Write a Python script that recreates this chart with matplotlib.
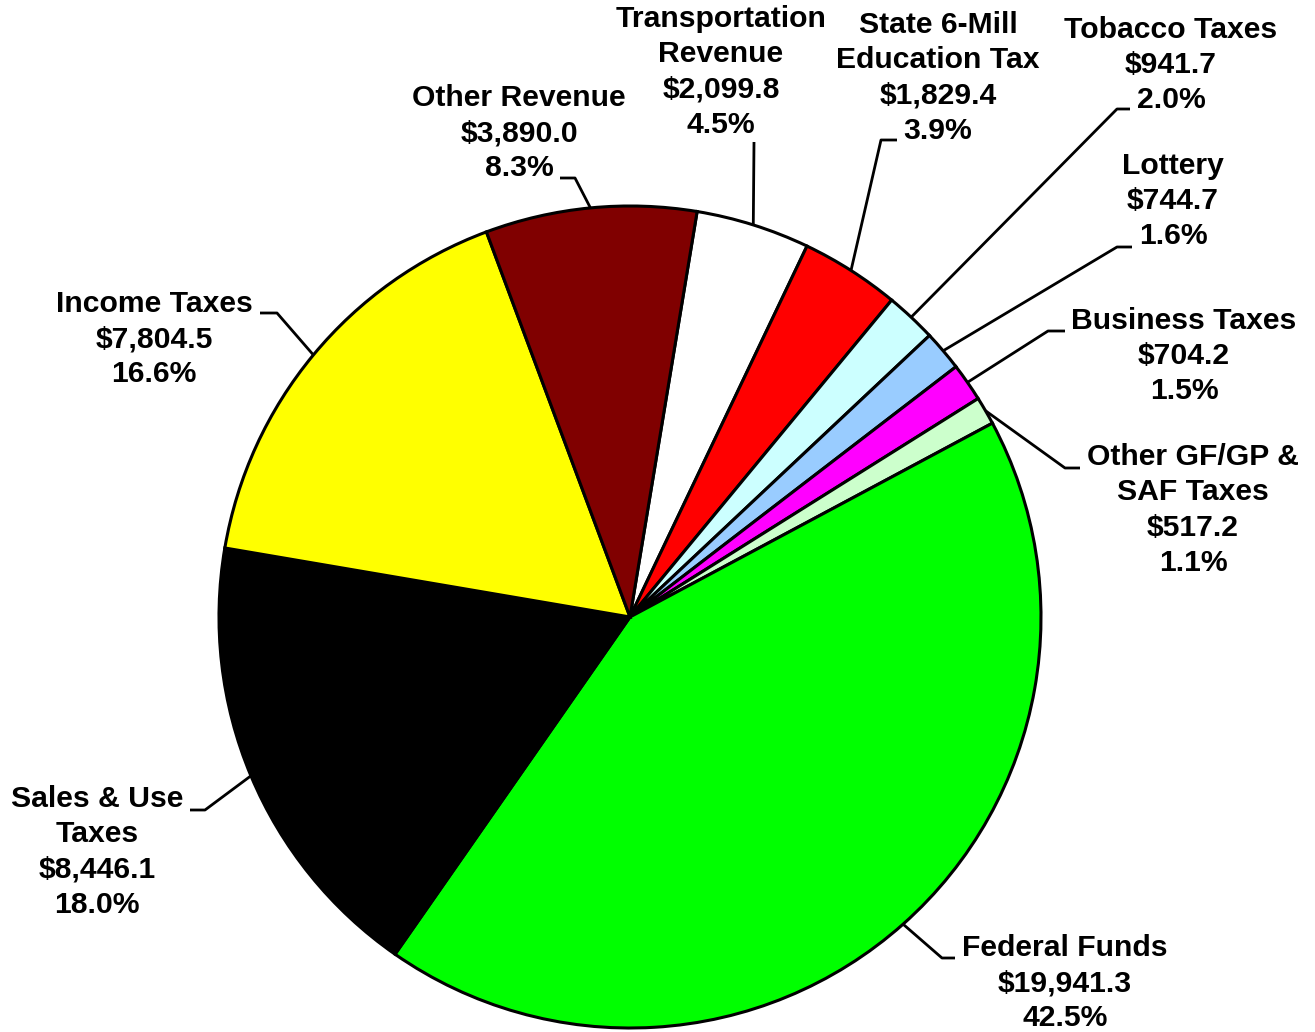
import matplotlib.pyplot as plt
import numpy as np

# ─── data (millions of dollars) ──────────────────────────────────────────────
categories = ["Transportation\nRevenue", "State 6-Mill\nEducation Tax", "Tobacco Taxes",
              "Lottery", "Business Taxes", "Other GF/GP &\nSAF Taxes", "Federal Funds",
              "Sales & Use\nTaxes", "Income Taxes", "Other Revenue"]
values = [2099.8, 1829.4, 941.7, 744.7, 704.2, 517.2, 19941.3, 8446.1, 7804.5, 3890.0]
colors = ["#FFFFFF", "#FF0000", "#CCFFFF", "#99CCFF", "#FF00FF", "#CCFFCC",
          "#00FF00", "#000000", "#FFFF00", "#800000"]

# ─── layout (pixel coords, y measured from top) ──────────────────────────────
W, H = 1315, 1032
CENTER = (630, 617)
RADIUS = 411
# text centre, elbow point, end point of leader line
label_layout = [
    ((721, 72),   None,       (754, 142)),
    ((938, 78),   (881, 140), (897, 140)),
    ((1171, 65),  (1117, 109), (1130, 109)),
    ((1173, 201), (1117, 247), (1132, 247)),
    ((1184, 356), (1048, 331), (1065, 331)),
    ((1193, 510), (1065, 468), (1080, 468)),
    ((1065, 983), (942, 958),  (955, 958)),
    ((97, 852),   (205, 810),  (190, 810)),
    ((154, 339),  (277, 313),  (260, 313)),
    ((519, 133),  (575, 178),  (560, 178)),
]


def flip(p):
    return (p[0], H - p[1])


fig = plt.figure(figsize=(W / 100, H / 100), dpi=100)
ax = fig.add_axes([0, 0, 1, 1])

wedges, _ = ax.pie(values, colors=colors, startangle=80.6, counterclock=False,
                   center=flip(CENTER), radius=RADIUS,
                   wedgeprops=dict(edgecolor="black", linewidth=2.2))

total = sum(values)
cx, cy = flip(CENTER)
for w, name, val, (txt, elbow, end) in zip(wedges, categories, values, label_layout):
    mid = np.deg2rad((w.theta1 + w.theta2) / 2)
    start = (cx + RADIUS * np.cos(mid), cy + RADIUS * np.sin(mid))
    pts = [start] + [flip(p) for p in (elbow, end) if p is not None]
    xs, ys = zip(*pts)
    ax.plot(xs, ys, color="black", linewidth=2.0, solid_capstyle="butt")

    label = f"{name}\n${val:,.1f}\n{val / total * 100:.1f}%"
    tx, ty = flip(txt)
    ax.text(tx, ty, label, ha="center", va="center", multialignment="center",
            fontsize=21.7, fontweight="bold", family="Liberation Sans",
            linespacing=1.32)

ax.set_xlim(0, W)
ax.set_ylim(0, H)
ax.set_aspect("equal")
ax.axis("off")

fig.savefig("out.png", dpi=100, facecolor="white")
